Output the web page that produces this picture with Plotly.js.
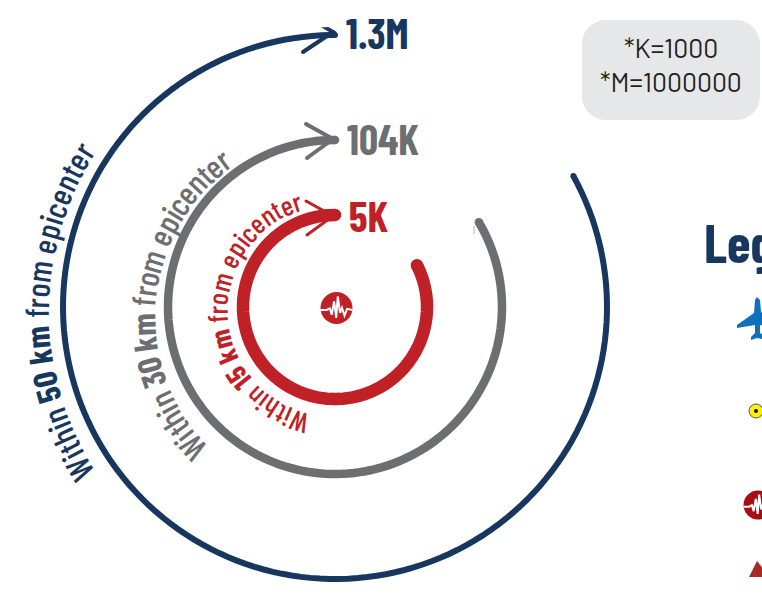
<!DOCTYPE html>
<html><head><meta charset="utf-8">
<script src="https://cdn.plot.ly/plotly-3.0.1.min.js"></script>
<style>html,body{margin:0;padding:0;background:#fff;overflow:hidden}</style>
</head><body><div id="chart" style="width:762px;height:596px"></div>
<script>
var W = 762, H = 596;
var distanceKm = [50, 30, 15];
var exposedLabels = ['1.3M', '104K', '5K'];
var notes = ['*K=1000', '*M=1000000'];
var legendTitle = 'Legend';

var colors = ['#18375f', '#6d6e71', '#c02126'];
var arcRadius = [272, 167, 92];
var arcWidth = [6, 8.5, 12.5];
var arcStartDeg = [28.8, 30.5, 27];
var arcEndDeg = [-270, -270, -270];
var CX = 335, CY = 307, RMAX = 280;

var COND = 'Barlow Condensed, sans-serif';
var paperX = function (p) { return p / W; };
var paperY = function (p) { return 1 - p / H; };
var px = function (x, y) { return paperX(x) + ',' + paperY(y); };

var traces = [];
distanceKm.forEach(function (d, i) {
  var th = [], r = [];
  for (var a = arcStartDeg[i]; a > arcEndDeg[i]; a -= 2) { th.push(a); r.push(arcRadius[i]); }
  th.push(arcEndDeg[i]); r.push(arcRadius[i]);
  traces.push({ type: 'scatterpolar', mode: 'lines', r: r, theta: th, line: { color: colors[i], width: arcWidth[i] }, hoverinfo: 'skip', cliponaxis: false });
  traces.push({ type: 'scatterpolar', mode: 'markers', r: [r[0], r[r.length - 1]], theta: [th[0], th[th.length - 1]], marker: { color: colors[i], size: arcWidth[i] }, hoverinfo: 'skip', cliponaxis: false });
});
var chevronTip = [[333, 32], [333, 139], [333, 216]];
var chevronA = [[303, 14], [306, 124], [306, 201]];
var chevronB = [[303, 52], [307, 158], [307, 235]];
var chevronW = [4, 4, 3];
function toPolar(p) {
  var dx = p[0] - CX, dy = CY - p[1];
  return [Math.sqrt(dx * dx + dy * dy), Math.atan2(dy, dx) * 180 / Math.PI];
}
chevronTip.forEach(function (t, i) {
  var pts = [chevronA[i], t, chevronB[i]].map(toPolar);
  traces.push({ type: 'scatterpolar', mode: 'lines+markers', r: pts.map(function (p) { return p[0]; }), theta: pts.map(function (p) { return p[1]; }),
    line: { color: colors[i], width: chevronW[i] }, marker: { color: colors[i], size: chevronW[i] }, hoverinfo: 'skip', cliponaxis: false });
});

var annotations = [];
function ann(x, y, text, size, color, family, extra, weight) {
  var o = { xref: 'paper', yref: 'paper', x: paperX(x), y: paperY(y), text: text, showarrow: false, xanchor: 'left', yanchor: 'middle', borderpad: 0,
    font: { size: size, color: color, family: family } };
  if (weight) o.font.weight = weight;
  for (var k in extra || {}) o[k] = extra[k];
  annotations.push(o);
}
var labelX = [345, 346, 348], labelY = [32, 138, 215];
exposedLabels.forEach(function (t, i) { ann(labelX[i], labelY[i], '<b>' + t + '</b>', 42, colors[i], COND); });
ann(703, 241, '<b>' + legendTitle + '</b>', 54, colors[0], COND);
ann(671, 47, notes[0], 26.5, '#231f20', 'Barlow, Roboto', { xanchor: 'center' });
ann(671, 81, notes[1], 26.5, '#231f20', 'Barlow, Roboto', { xanchor: 'center' });

var textCX = [343, 340, 333], textCY = [312, 317, 311], textR = [297, 188, 108];
var textStart = [213, 225, 258], textEnd = [147, 125, 106];
var textSize = [33, 33, 28];
var ctx = document.createElement('canvas').getContext('2d');
distanceKm.forEach(function (d, i) {
  var parts = [['Within ', false], [d + ' km', true], [' from epicenter', false]];
  var chars = [], total = 0;
  parts.forEach(function (p) {
    ctx.font = (p[1] ? 'bold ' : '500 ') + textSize[i] + 'px "Barlow Condensed"';
    for (var k = 0; k < p[0].length; k++) {
      var w = ctx.measureText(p[0][k]).width;
      chars.push({ c: p[0][k], b: p[1], w: w, at: total + w / 2 });
      total += w;
    }
  });
  var R = textR[i], span = textStart[i] - textEnd[i];
  chars.forEach(function (c) {
    if (c.c === ' ') return;
    var th = textStart[i] - span * c.at / total;
    var rad = th * Math.PI / 180;
    var rr = R + textSize[i] * 0.3;
    ann(textCX[i] + rr * Math.cos(rad), textCY[i] - rr * Math.sin(rad), c.b ? '<b>' + c.c + '</b>' : c.c, textSize[i], colors[i], COND,
      { xanchor: 'center', textangle: 90 - th }, c.b ? undefined : 500);
  });
});

function roundRect(x0, y0, x1, y1, r) {
  var k = r * 0.45;
  return 'M' + px(x0 + r, y0) + ' L' + px(x1 - r, y0) + ' C' + px(x1 - k, y0) + ' ' + px(x1, y0 + k) + ' ' + px(x1, y0 + r) +
    ' L' + px(x1, y1 - r) + ' C' + px(x1, y1 - k) + ' ' + px(x1 - k, y1) + ' ' + px(x1 - r, y1) +
    ' L' + px(x0 + r, y1) + ' C' + px(x0 + k, y1) + ' ' + px(x0, y1 - k) + ' ' + px(x0, y1 - r) +
    ' L' + px(x0, y0 + r) + ' C' + px(x0, y0 + k) + ' ' + px(x0 + k, y0) + ' ' + px(x0 + r, y0) + ' Z';
}
function circle(cx, cy, r, fill, lineColor, lw) {
  return { type: 'circle', xref: 'paper', yref: 'paper', x0: paperX(cx - r), x1: paperX(cx + r), y0: paperY(cy + r), y1: paperY(cy - r), fillcolor: fill,
    line: { color: lineColor || fill, width: lw || 0 }, layer: 'above' };
}
function pathShape(pts, fill, lineColor, lw) {
  var s = pts.map(function (p, i) { return (i ? 'L' : 'M') + px(p[0], p[1]); }).join(' ');
  return { type: 'path', xref: 'paper', yref: 'paper', path: s + (fill ? ' Z' : ''), fillcolor: fill || 'rgba(0,0,0,0)', line: { color: lineColor || fill, width: lw === undefined ? 0 : lw }, layer: 'above' };
}
function wave(cx, cy, s) {
  var base = [[-1, 0.12], [-0.62, 0.12], [-0.42, 0.02], [-0.3, 0.42], [-0.15, -0.42], [-0.02, 0.62], [0.08, -0.72], [0.22, 0.3], [0.34, -0.02], [0.5, 0.48], [0.66, 0.05], [1, 0.12]];
  return pathShape(base.map(function (p) { return [cx + p[0] * s, cy + p[1] * s]; }), null, '#ffffff', 2);
}
var shapes = [
  { type: 'path', xref: 'paper', yref: 'paper', path: roundRect(582, 20, 760, 120, 24), fillcolor: '#e6e7e8', line: { width: 0 }, layer: 'below' },
  circle(336.5, 308, 16, '#c02126'),
  wave(336.5, 308, 16),
  pathShape([[474, 226], [474, 234]], null, '#b0b0b0', 1),
  pathShape([[757, 297], [760, 300], [761, 312], [770, 318], [770, 328], [760, 325], [760, 333], [766, 337], [766, 340], [757, 338], [751, 340], [751, 337], [755, 333], [755, 325], [737, 328], [737, 325], [754, 313], [755, 300]], '#0f71bc'),
  circle(756, 411, 7, '#fff200', '#555555', 1),
  circle(756, 411, 2, '#111111'),
  circle(758, 505, 14.5, '#a50f15'),
  wave(758, 505, 14.5),
  pathShape([[757, 561], [749, 577], [770, 577]], '#a52a2a')
];

var layout = {
  width: W, height: H, margin: { l: 0, r: 0, t: 0, b: 0 }, showlegend: false, paper_bgcolor: '#ffffff', plot_bgcolor: '#ffffff',
  polar: {
    domain: { x: [(CX - RMAX) / W, (CX + RMAX) / W], y: [(H - CY - RMAX) / H, (H - CY + RMAX) / H] },
    bgcolor: 'rgba(0,0,0,0)',
    radialaxis: { visible: false, range: [0, RMAX] },
    angularaxis: { visible: false }
  },
  annotations: annotations, shapes: shapes
};
Plotly.newPlot('chart', traces, layout, { displayModeBar: false, staticPlot: true });
</script></body></html>
